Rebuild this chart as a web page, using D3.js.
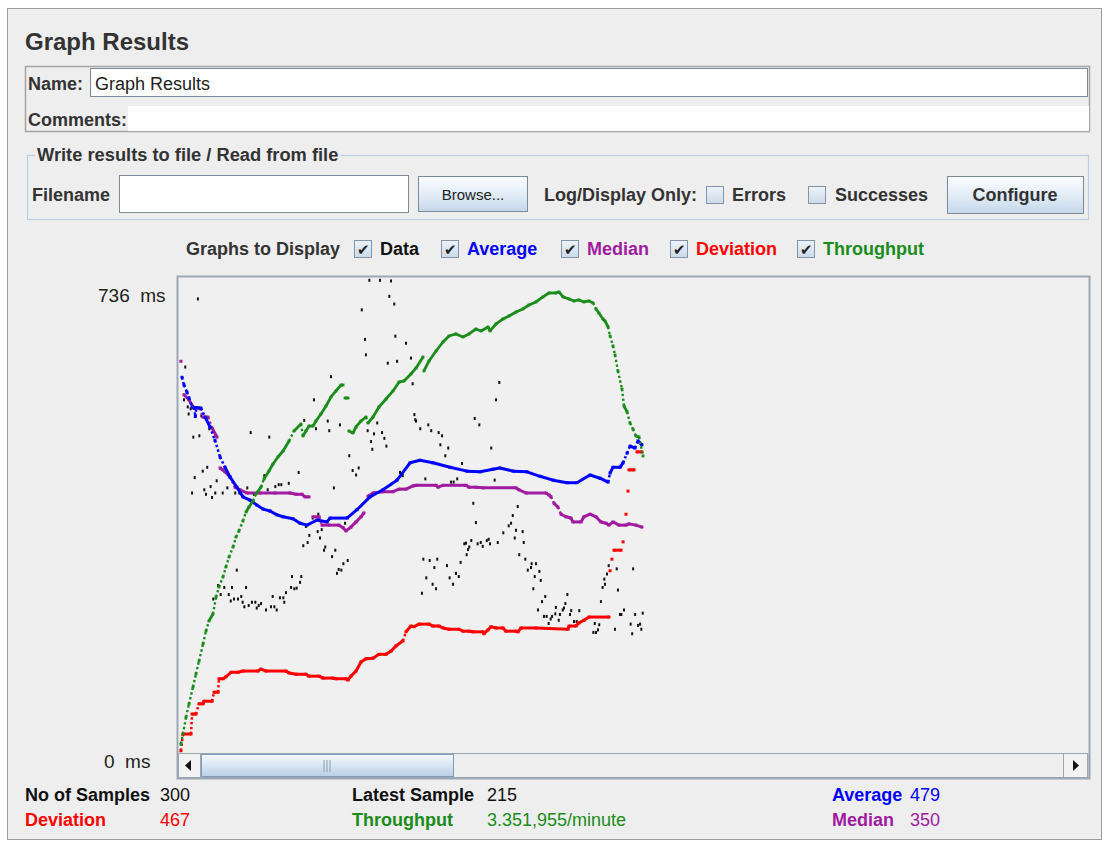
<!DOCTYPE html>
<html><head><meta charset="utf-8">
<script src="https://cdn.jsdelivr.net/npm/d3@7/dist/d3.min.js"></script>
<style>
html,body{margin:0;padding:0;background:#fff;}
text{font-family:"Liberation Sans",Arial,Helvetica,sans-serif;white-space:pre;}
</style></head>
<body>
<svg id="chart" width="1109" height="846"></svg>
<script>
// ---------------- DATA ----------------
const sampleCount = 300;
const yMaxMs = 736;
const yTickValues = [736, 0];
const yTickLabels = ["736  ms", "0  ms"];
const throughputMaxPerMin = 5354;

const legendLabels = ["Data", "Average", "Median", "Deviation", "Throughput"];
const statLabels = ["No of Samples", "Latest Sample", "Average", "Deviation", "Throughput", "Median"];
const statValues = ["300", "215", "479", "467", "3.351,955/minute", "350"];

// black data points [sample, ms]
const dataPoints = [
[11.6,705],[3.4,599],[2.6,548],[5.0,537],[6.9,534],[5.6,526],[13.8,523],[16.4,521],[18.9,503],[8.6,490],
[12.5,492],[45.7,497],[57.7,490],[17.6,443],[14.7,437],[9.5,427],[23.7,422],[15.7,408],[19.8,413],[7.8,403],
[16.8,401],[20.7,396],[22.8,403],[27.6,403],[30.6,411],[35.7,403],[38.3,403],[43.5,411],[47.8,401],[54.5,430],
[56.7,408],[61.6,413],[63.8,416],[65.5,416],[70.3,418],[36.7,283],[24.6,259],[28.6,256],[33.6,256],[42.7,256],
[21.5,238],[26.3,245],[31.5,245],[32.8,235],[34.9,238],[37.5,238],[39.6,242],[40.5,233],[41.6,226],[44.4,228],
[46.5,233],[48.7,233],[49.6,224],[50.9,228],[52.4,231],[55.6,221],[58.8,226],[59.9,242],[61.0,226],[62.5,221],
[64.6,240],[66.8,240],[67.4,233],[68.5,248],[71.8,256],[72.4,273],[73.9,254],
[122.4,734],[129.3,734],[136.4,733],[135.3,709],[138.5,697],[117.5,688],[139.2,647],[119.6,642],[146.1,636],[120.2,618],
[134.3,605],[140.3,608],[149.3,613],[97.6,584],[150.4,573],[86.6,548],[80.3,516],[95.5,515],[103.4,509],[87.9,503],
[96.5,500],[127.5,512],[121.3,500],[125.4,495],[130.6,497],[132.1,488],[123.5,483],[133.4,476],[124.3,471],[151.5,525],
[152.1,517],[109.4,461],[76.7,435],[111.6,438],[115.5,442],[113.8,431],[142.2,435],[144.0,430],[99.5,411],[89.4,370],
[85.8,364],[106.7,356],[81.4,351],[89.0,343],[91.6,346],[83.6,337],[90.5,333],[82.5,326],[79.7,321],[93.9,319],
[93.1,314],[100.4,314],[98.3,304],[108.4,298],[105.6,293],[102.6,284],[104.3,283],[101.5,278],[78.4,273],[77.6,264],
[75.4,255],
[206.4,575],[204.3,548],[152.6,515],[155.3,503],[160.5,509],[162.4,500],[167.2,497],[169.4,492],[168.3,478],[173.4,473],
[171.5,461],[190.5,519],[193.5,509],[201.2,473],[182.3,449],[203.4,423],[158.6,425],[175.2,420],[176.9,420],[179.2,425],
[189.6,387],[218.3,382],[191.3,357],[215.1,368],[214.0,356],[212.5,352],[217.2,345],[221.5,343],[209.0,341],[216.4,333],
[205.4,326],[222.2,326],[183.8,324],[184.9,325],[188.3,329],[187.0,319],[186.2,315],[192.4,324],[194.4,326],[195.7,320],
[198.3,329],[199.5,331],[200.4,324],[185.3,307],[219.3,307],[223.2,300],[181.4,295],[157.3,300],[161.4,298],[166.3,300],
[164.4,287],[172.6,290],[178.4,278],[180.2,273],[174.3,271],[159.2,271],[176.5,261],[163.3,261],[165.5,254],[156.4,247],
[224.8,283],[226.9,287],[227.3,293],[229.3,273],[228.4,254],
[230.1,293],[232.3,281],[233.2,267],[236.1,242],[234.0,234],[250.4,245],[249.1,231],[231.4,221],[235.3,211],[237.0,211],
[240.5,211],[239.6,207],[238.3,200],[243.0,225],[242.6,215],[245.6,214],[247.4,221],[248.2,224],[244.8,205],[252.9,220],
[252.1,214],[258.1,220],[254.7,203],[256.4,203],[268.1,200],[271.0,198],[267.2,186],[268.9,186],[270.2,190],[272.1,234],
[273.2,256],[274.7,261],[274.3,269],[276.0,277],[277.1,290],[282.3,285],[283.1,252],[284.4,214],[285.3,214],[287.0,221],
[281.2,191],[292.9,285],[294.2,214],[291.3,199],[292.3,184],[296.1,197],[297.4,199],[298.2,191],[299.1,216]
];

// [sample, ms] ; null = break in the drawn line
const averageSeries = [
[1.3,583],[2.6,571],[4.5,560],[5.8,551],[7.8,537],[9.2,536],[9.9,522],[10.6,536],[13.6,535],[16.2,521],
[19.4,506],[22.6,485],[25.9,459],[29.1,443],[32.3,428],[36.8,412],[40.7,397],[45.2,392],[49.8,384],[53.7,378],
[58.2,375],[62.7,369],[66.6,366],[73,363],[77.6,356],[82.1,353],[88.6,361],[95,358],[97,364],[108,364],
[114.4,377],[122.8,397],[131.2,408],[140.3,423],[148.7,450],[155.1,454],[163.5,450],[174.5,443],[185.5,437],[194,436],
[202.3,440],[206.8,442],[215.3,437],[224.3,436],[232.7,429],[241.1,423],[250.2,419],[256.6,419],[265,431],[271.5,426],
[276.7,420],[278,434],[279.9,443],[284.4,443],[286.4,450],[289,465],[290.9,476],[294.1,473],[296,484],[298.6,478]
];

const medianSeries = [
[0.6,608], null,
[2.6,556],[5.8,548],[9,535],[12.9,535],[14.9,521],[18.1,521],[20.7,504],[23.9,490], null,
[25.9,442],[29.1,436],[32.3,428],[35.6,412],[38.8,408],[43.3,403],[51.7,403],[61.4,403],[71.1,403],[75,401],
[78.9,401],[80.8,397],[83.4,397], null,
[86,366],[89.9,366],[91.8,353],[96.3,353],[102.8,353],[105.4,349],[107.3,344],[110.5,350],[113.8,358],[117,366],
[118.9,372], null,
[121.5,398],[124.8,403],[131.2,405],[137.7,405],[141.6,409],[146.1,409],[150.6,414],[152.6,415],[165.5,415],[166.8,412],
[170,415],[184.9,415],[186.8,412],[191.3,412],[195.9,411],[217.2,411],[219.1,408],[223.7,403],[236.6,403],[238.5,400],
[239.8,397],[241.8,387],[244.3,381],[246.3,370],[249.5,366],[252.7,364],[254,358],[259.2,358],[261.1,366],[265,370],
[268.9,366],[272.1,358],[275.4,356],[277.3,353],[279.9,358],[283.8,353],[288.3,353],[290.2,355],[294.7,353],[298.6,350]
];

const deviationSeries = [
[0.6,2],[1.9,28],[7.1,28],[7.8,59],[10.3,59],[12.3,75],[14.9,75],[15.5,79],[20.7,79],[22,93],
[24.6,93],[25.2,114],[27.8,114],[29.7,117],[33,124],[37.5,124],[40.7,126],[50.4,126],[52.4,129],[55.6,126],
[68.5,126],[70.5,123],[75,121],[81.4,121],[83.4,118],[89.9,118],[92.4,115],[98.9,115],[100.8,114],[107.3,114],
[108.6,112],[110.5,118],[113.8,126],[117,140],[120.2,145],[124.8,146],[128.6,152],[133.2,152],[136.4,157],[139.6,165],
[144.1,173],[146.1,187],[149.3,196],[151.3,195],[154.5,199],[161,199],[163.5,196],[167.4,196],[170,193],[173.9,191],
[180.3,191],[182.9,188],[186.8,188],[189.4,187],[195.9,187],[196.5,184],[199.1,190],[201,195],[204.3,193],[208.8,193],
[210.7,188],[217.2,188],[218.5,187],[220.4,193],[230.1,193],[250.8,191],[251.5,196],[256,196],[257.9,201],[261.1,205],
[264.4,210],[277.3,210], null,
[278,282], null, [279.2,300], null, [280.5,314],[285.1,314], null, [286.4,327], null, [288.3,370], null,
[289.6,406], null, [290.2,439],[293.5,439], null, [295.4,467],[298.6,467]
];

// [sample, requests per minute]
const throughputSeries = [
[0.6,91],[1.9,204],[3.9,396],[5.8,543],[8.4,736],[10.3,883],[12.3,1030],[14.9,1223],[16.8,1370],[18.7,1483],
[21.3,1562],[23.3,1755],[25.2,1868],[27.8,1981],[29.7,2094],[31.7,2207],[34.3,2321],[36.2,2434],[38.1,2502],[40.7,2615],
[42.7,2717],[44.6,2773],[47.2,2841],[49.1,2921],[52.4,3000],[54.3,3090],[57.5,3181],[60.1,3260],[63.3,3339],[66.6,3407],
[70.5,3521],[73.7,3634],[78.2,3713],[79.5,3577],[81.4,3634],[83.4,3690],[86,3690],[87.9,3747],[91.1,3826],[94.4,3917],
[97.6,4019],[100.8,4087],[104.1,4154],[105.4,4154], null,
[106.7,4007],[108.6,4007], null,
[109.2,3634],[111.8,3611],[113.8,3679],[117,3747],[120.2,3792],[121.5,3724],[124.8,3792],[128.6,3905],[133.2,3996],[137.7,4087],
[141.6,4188],[144.8,4200],[149.3,4279],[152.6,4347],[157.1,4471], null,
[157.7,4313],[161,4426],[165.5,4539],[170,4641],[173.9,4709],[178.4,4732],[182.9,4698],[186.8,4732],[191.3,4788],[194.6,4766],
[199.1,4811],[200.4,4766],[204.3,4845],[208.8,4902],[212.7,4936],[217.2,4981],[221.7,5015],[225.6,5060],[230.1,5094],[234.6,5151],
[238.5,5196],[243,5196],[245,5207],[247.6,5151],[251.5,5128],[254.7,5105],[257.9,5117],[261.1,5094],[264.4,5105],[267,5083],
[268.9,5015],[270.8,4969],[273.4,4902],[274.7,4879],[276.7,4811],[278,4709],[279.9,4596],[281.2,4494],[283.1,4313],[285.7,4109],
[287,3917],[289,3849],[290.9,3724],[292.8,3656],[294.7,3577],[296.7,3566],[299.3,3351]
];

// ---------------- DRAW ----------------
const svg = d3.select("#chart");
const colors = {data:"#111111", average:"#0000ff", median:"#a01ba0", deviation:"#ff0000", throughput:"#1a8c1a", text:"#333333"};

const defs = svg.append("defs");
function grad(id, stops){
  const g = defs.append("linearGradient").attr("id", id).attr("x1",0).attr("y1",0).attr("x2",0).attr("y2",1);
  stops.forEach(s => g.append("stop").attr("offset", s[0]).attr("stop-color", s[1]));
}
grad("btn", [[0,"#fbfdff"],[0.5,"#e3edf7"],[1,"#c5d7ea"]]);
grad("chk", [[0,"#eef4fa"],[1,"#cbd9e8"]]);
grad("thumb", [[0,"#f6f9fd"],[0.45,"#dbe7f4"],[1,"#b9cfe6"]]);

function txt(x, y, s, o = {}){
  return svg.append("text").attr("x", x).attr("y", y).text(s)
    .attr("font-size", o.size || 18).attr("font-weight", o.bold ? "bold" : "normal")
    .attr("fill", o.fill || colors.text).attr("text-anchor", o.anchor || "start");
}

// panel
svg.append("rect").attr("x",7.5).attr("y",8.5).attr("width",1094).attr("height",831)
  .attr("fill","#eeeeee").attr("stroke","#9a9a9a");

txt(25, 50, "Graph Results", {size:24, bold:true});

// name / comments
svg.append("rect").attr("x",25.5).attr("y",66.5).attr("width",1064).attr("height",65).attr("fill","none").attr("stroke","#a5a5a5").attr("stroke-width",1.5);
svg.append("rect").attr("x",90.5).attr("y",68.5).attr("width",997).attr("height",28).attr("fill","#fff").attr("stroke","#7a8a99");
txt(28, 90, "Name:", {bold:true});
txt(95, 90, "Graph Results", {fill:"#222"});
svg.append("rect").attr("x",128).attr("y",106).attr("width",961).attr("height",25).attr("fill","#fff");
txt(28, 126, "Comments:", {bold:true});

// titled border
svg.append("rect").attr("x",27.5).attr("y",155.5).attr("width",1061).attr("height",64).attr("fill","none").attr("stroke","#b8cfe5").attr("stroke-width",1.2);
const tb = txt(37, 161, "Write results to file / Read from file", {bold:true, size:18.3});
const bb = tb.node().getBBox();
svg.append("rect").attr("x", bb.x-2).attr("y",150).attr("width", bb.width+4).attr("height",10).attr("fill","#eeeeee");
tb.raise();

txt(32, 201, "Filename", {bold:true});
svg.append("rect").attr("x",119.5).attr("y",175.5).attr("width",289).attr("height",37).attr("fill","#fff").attr("stroke","#7a8a99");
svg.append("rect").attr("x",418.5).attr("y",176.5).attr("width",109).attr("height",35).attr("fill","url(#btn)").attr("stroke","#7a8a99");
txt(473, 200, "Browse...", {size:15, anchor:"middle", fill:"#222"});
txt(544, 201, "Log/Display Only:", {bold:true});
function checkbox(x, y, checked){
  svg.append("rect").attr("x",x+0.5).attr("y",y+0.5).attr("width",17).attr("height",17).attr("fill","url(#chk)").attr("stroke","#8294a8");
  if (checked) svg.append("text").attr("x",x+9).attr("y",y+15).attr("text-anchor","middle")
    .attr("font-size",15).attr("font-family",'"DejaVu Sans",sans-serif').attr("fill","#222").text("✔");
}
checkbox(706, 186, false); txt(732, 201, "Errors", {bold:true});
checkbox(808, 186, false); txt(835, 201, "Successes", {bold:true});
svg.append("rect").attr("x",947.5).attr("y",176.5).attr("width",136).attr("height",37).attr("fill","url(#btn)").attr("stroke","#7a8a99");
txt(1015, 201, "Configure", {bold:true, anchor:"middle"});

// graphs to display
txt(186, 255, "Graphs to Display", {bold:true});
const legendX = [354, 441, 561, 670, 797];
const legendColors = [colors.data, colors.average, colors.median, colors.deviation, colors.throughput];
legendLabels.forEach((l, i) => {
  checkbox(legendX[i], 240, true);
  txt(legendX[i] + 26, 255, l, {bold:true, fill: legendColors[i]});
});

// plot frame
const plot = {left:177, top:276, right:1089, bottom:778};
svg.append("rect").attr("x",plot.left+0.5).attr("y",plot.top+0.5).attr("width",plot.right-plot.left).attr("height",plot.bottom-plot.top)
  .attr("fill","#f0f0f0").attr("stroke","#9ba7b4").attr("stroke-width",2);

// scales
const x = d3.scaleLinear().domain([0, sampleCount]).range([180, 644.1]);
const y = d3.scaleLinear().domain([0, yMaxMs]).range([752, 279]);
const yT = d3.scaleLinear().domain([0, throughputMaxPerMin]).range([752, 279]);
const yLabel = d3.scaleLinear().domain([0, yMaxMs]).range([768, 302]);

yTickValues.forEach((v, i) => {
  txt(v === 0 ? 104 : 98, yLabel(v), yTickLabels[i], {fill:"#222", size:19});
});

const g = svg.append("g");
// data dots
g.selectAll("rect.d").data(dataPoints).join("rect").attr("class","d")
  .attr("x", d => x(d[0]) - 1).attr("y", d => y(d[1]) - 1.5).attr("width", 2).attr("height", 3).attr("fill", colors.data);

function drawSeries(data, ys, color, w){
  const pts = data.map(d => d ? [x(d[0]), ys(d[1])] : null);
  const gg = g.append("g");
  for (let i = 0; i < pts.length - 1; i++){
    const a = pts[i], b = pts[i+1];
    if (!a || !b) continue;
    const dx = Math.abs(b[0]-a[0]), dy = Math.abs(b[1]-a[1]);
    const ln = gg.append("line").attr("x1",a[0]).attr("y1",a[1]).attr("x2",b[0]).attr("y2",b[1])
      .attr("stroke", color).attr("stroke-width", w);
    if (dy > 2*dx && dy > 4) ln.attr("stroke-dasharray","2.4,2.4").attr("stroke-width", w*0.85);
  }
  gg.selectAll("rect").data(pts.filter(p => p)).join("rect")
    .attr("x", p => p[0]-w/2).attr("y", p => p[1]-w/2).attr("width", w).attr("height", w).attr("fill", color);
}
drawSeries(medianSeries, y, colors.median, 3);
drawSeries(averageSeries, y, colors.average, 3);
drawSeries(deviationSeries, y, colors.deviation, 3);
drawSeries(throughputSeries, yT, colors.throughput, 2.8);

// scrollbar
const sb = {y:753, h:25};
svg.append("rect").attr("x",178).attr("y",sb.y+0.5).attr("width",910).attr("height",sb.h-1).attr("fill","#eeeeee").attr("stroke","#9ba7b4");
svg.append("rect").attr("x",178.5).attr("y",sb.y+0.5).attr("width",22).attr("height",sb.h-1).attr("fill","#f2f2f2").attr("stroke","#9ba7b4");
svg.append("path").attr("d",`M185,${sb.y+12.5} L191,${sb.y+7} L191,${sb.y+18} Z`).attr("fill","#111");
svg.append("rect").attr("x",1063.5).attr("y",sb.y+0.5).attr("width",24).attr("height",sb.h-1).attr("fill","#f2f2f2").attr("stroke","#9ba7b4");
svg.append("path").attr("d",`M1079,${sb.y+12.5} L1073,${sb.y+7} L1073,${sb.y+18} Z`).attr("fill","#111");
svg.append("rect").attr("x",201.5).attr("y",sb.y+1.5).attr("width",252).attr("height",sb.h-3).attr("fill","url(#thumb)").attr("stroke","#7f9db9");
[-3,0,3].forEach(o => svg.append("line").attr("x1",327+o).attr("x2",327+o).attr("y1",sb.y+7).attr("y2",sb.y+19).attr("stroke","#8aa0b8").attr("stroke-width",1));

// stats
const statX = [[25,160],[352,487],[832,910]];
const statColorsRow1 = ["#111", "#111", colors.average];
const statColorsRow2 = [colors.deviation, colors.throughput, colors.median];
[0,1,2].forEach(i => {
  txt(statX[i][0], 801, statLabels[i], {bold:true, fill:statColorsRow1[i]});
  txt(statX[i][1], 801, statValues[i], {fill:statColorsRow1[i]});
  txt(statX[i][0], 826, statLabels[i+3], {bold:true, fill:statColorsRow2[i]});
  txt(statX[i][1], 826, statValues[i+3], {fill:statColorsRow2[i]});
});
</script>
</body></html>
